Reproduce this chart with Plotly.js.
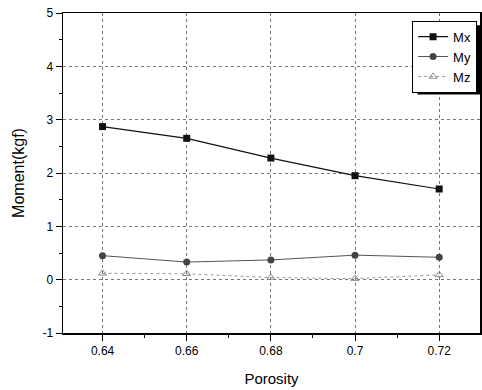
<!DOCTYPE html>
<html><head><meta charset="utf-8">
<script src="https://cdn.plot.ly/plotly-3.0.1.min.js"></script>
<style>body{margin:0;background:#fff}#c{width:482px;height:390px}</style>
</head><body><div id="c"></div>
<script>
const porosity = [0.64, 0.66, 0.68, 0.70, 0.72];
const mx = [2.87, 2.65, 2.28, 1.95, 1.70];
const my = [0.45, 0.33, 0.37, 0.46, 0.42];
const mz = [0.12, 0.11, 0.04, 0.02, 0.09];
const xTicks = [0.64, 0.66, 0.68, 0.70, 0.72];
const xTickText = ['0.64', '0.66', '0.68', '0.7', '0.72'];
const yTicks = [-1, 0, 1, 2, 3, 4, 5];
const yTickText = ['-1', '0', '1', '2', '3', '4', '5'];

const traces = [
  {x: porosity, y: mx, name: 'Mx', mode: 'lines+markers',
   line: {color: '#111', width: 1.2}, marker: {symbol: 'square', size: 7, color: '#111'}},
  {x: porosity, y: my, name: 'My', mode: 'lines+markers',
   line: {color: '#555', width: 1}, marker: {symbol: 'circle', size: 7, color: '#444'}},
  {x: porosity, y: mz, name: 'Mz', mode: 'lines+markers',
   line: {color: '#999', width: 1, dash: 'dot'}, marker: {symbol: 'triangle-up-open', size: 7, color: '#888'}}
];

const FONT = 'Liberation Sans, Arial';
const axisCommon = {
  showline: true, linecolor: '#000', linewidth: 1.5, mirror: true,
  ticks: 'outside', ticklen: 6, tickcolor: '#000', tickwidth: 1,
  showgrid: true, gridcolor: '#777', griddash: 'dot', gridwidth: 1,
  zeroline: false,
  tickfont: {family: FONT, size: 12, color: '#000'}
};

const layout = {
  width: 482, height: 390,
  margin: {l: 63, r: 2, t: 13, b: 57},
  paper_bgcolor: '#fff', plot_bgcolor: '#fff',
  showlegend: true,
  legend: {x: 0.993, y: 0.976, xanchor: 'right', yanchor: 'top',
    bordercolor: '#000', borderwidth: 1, bgcolor: '#fff',
    font: {family: FONT, size: 13, color: '#000'},
    tracegroupgap: 0, itemwidth: 30},
  shapes: [
    {type: 'rect', xref: 'paper', yref: 'paper', x0: 0.85, x1: 1.003, y0: 0.745, y1: 0.962,
     fillcolor: '#000', line: {width: 0}, layer: 'above'}
  ],
  xaxis: Object.assign({}, axisCommon, {
    range: [0.6306, 0.7297], tickvals: xTicks, ticktext: xTickText,
    minor: {ticks: 'outside', dtick: 0.01, ticklen: 3, tickcolor: '#000', showgrid: false},
    title: {text: 'Porosity', font: {family: FONT, size: 15, color: '#000'}, standoff: 16}
  }),
  yaxis: Object.assign({}, axisCommon, {
    range: [-1, 5], tickvals: yTicks, ticktext: yTickText,
    minor: {ticks: 'outside', dtick: 0.5, ticklen: 3, tickcolor: '#000', showgrid: false},
    title: {text: 'Moment(kgf)', font: {family: FONT, size: 16, color: '#000'}, standoff: 14}
  })
};

Plotly.newPlot('c', traces, layout, {displayModeBar: false, staticPlot: true});
</script></body></html>
